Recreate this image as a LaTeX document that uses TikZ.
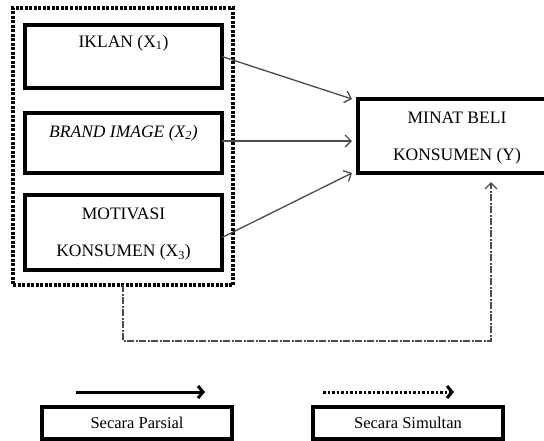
\documentclass[tikz,border=0pt]{standalone}
\usepackage{fontspec}
\setmainfont{Liberation Serif}
\usetikzlibrary{positioning,arrows.meta}
\definecolor{lijngrijs}{RGB}{75,75,75}

\begin{document}
\begin{tikzpicture}[x=1pt,y=-1pt,
    varbox/.style={draw,line width=3.2pt,outer sep=0pt,inner sep=0pt,minimum width=197pt,
                   align=center,font=\fontsize{17.5}{37}\selectfont},
    legbox/.style={draw,line width=3.2pt,outer sep=0pt,inner sep=0pt,minimum width=190pt,
                   minimum height=32pt,font=\fontsize{16.5}{18}\selectfont},
    parsial/.style={draw=lijngrijs,line width=1.3pt,-{Straight Barb[length=6pt,width=12pt]}},
    simultan/.style={parsial,dash pattern=on 7pt off 1.5pt on 2pt off 1.5pt},
    legpijl/.style={line width=3pt,-{Straight Barb[length=5pt,width=12pt]}}
    ]
    \useasboundingbox (0,0) rectangle (544,440);
    %%% variabel bebas
    \node[draw,line width=3.2pt,dash pattern=on 3pt off 1.5pt,outer sep=0pt,
          minimum width=220pt,minimum height=277pt,anchor=north west] (groep) at (13,8) {};
    \node[varbox,anchor=north west,text height=22pt,text depth=41pt] (iklan) at (25,25) {IKLAN (X\textsubscript{1})};
    \node[varbox,below=25pt of iklan,text height=24pt,text depth=36pt] (brand) {\textit{BRAND IMAGE (X\textsubscript{2})}};
    \node[varbox,below=22pt of brand,text height=61.5pt,text depth=13.5pt] (motivasi) {MOTIVASI\\KONSUMEN (X\textsubscript{3})};
    %%% variabel terikat
    \node[varbox,minimum width=198pt,anchor=north west,text height=61pt,text depth=13pt] (minat) at (358,99) {MINAT BELI\\KONSUMEN (Y)};
    %%% pengaruh
    \draw[parsial] (iklan.east) -- ([xshift=-6pt]minat.north west);
    \draw[parsial] ([yshift=2pt]brand.east) -- ([xshift=-6pt,yshift=-5pt]minat.west);
    \draw[parsial] ([yshift=-5pt]motivasi.east) -- ([xshift=-6pt]minat.south west);
    \coordinate (belok) at (491,341);
    \draw[simultan] (groep.south) |- (belok) -- ([yshift=-9pt]minat.south -| belok);
    %%% keterangan
    \coordinate (parsial1) at (76,392);
    \coordinate (parsial2) at (205,392);
    \coordinate (simultan1) at (323,392);
    \coordinate (simultan2) at (454,392);
    \draw[legpijl] (parsial1) -- (parsial2);
    \draw[legpijl,dash pattern=on 2.5pt off 2pt] (simultan1) -- (simultan2);
    \node[legbox,anchor=north west] (legparsial) at (42,407) {Secara Parsial};
    \node[legbox,anchor=north west] (legsimultan) at (313,407) {Secara Simultan};
\end{tikzpicture}
\end{document}
